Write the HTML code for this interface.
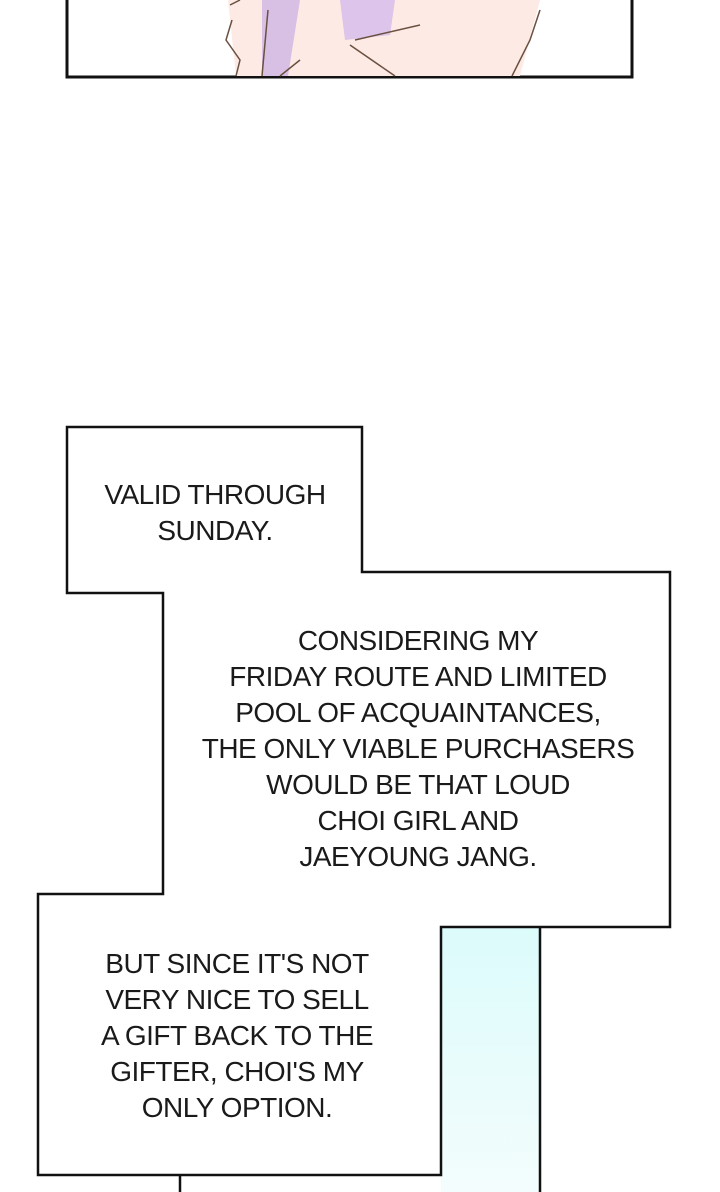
<!DOCTYPE html>
<html><head><style>
body{margin:0;width:720px;height:1192px;background:#fff;overflow:hidden;position:relative;font-family:"Liberation Sans",sans-serif}
.t{position:absolute;text-align:center;font-size:28px;line-height:36px;color:#1a1a1a;letter-spacing:-0.5px}
</style></head><body>
<svg width="720" height="1192" style="position:absolute;left:0;top:0">
<defs><linearGradient id="g" x1="0" y1="0" x2="0" y2="1"><stop offset="0" stop-color="#dcfbfb"/><stop offset="1" stop-color="#f4fdfd"/></linearGradient></defs>
<rect x="67" y="-5" width="565" height="82" fill="#fff" stroke="#111" stroke-width="3"/>
<path d="M228,0 L540,0 L520,76 L236,76 Z" fill="#fdeae4"/>
<path d="M262,0 L300,0 L288,76 L262,76 Z" fill="#d8c0e4"/>
<path d="M340,0 L395,0 L390,35 L345,40 Z" fill="#dcc4ea"/>
<path d="M230,5 L240,0 M232,20 L226,40 L240,60 L236,76 M268,10 L262,76 M300,60 L280,76 M355,40 L420,25 M350,45 L395,76 M540,10 L530,40 L512,76" stroke="#6a5040" stroke-width="1.5" fill="none"/>
<rect x="441" y="927" width="99" height="270" fill="url(#g)"/>
<line x1="540" y1="927" x2="540" y2="1192" stroke="#111" stroke-width="2.5"/>
<line x1="180" y1="1175" x2="180" y2="1192" stroke="#111" stroke-width="2.5"/>
<polygon points="67,427 362,427 362,572 670,572 670,927 441,927 441,1175 38,1175 38,894 163,894 163,593 67,593" fill="#fff" stroke="#111" stroke-width="2.5"/>
</svg>
<div class="t" style="left:65px;top:477px;width:300px">VALID THROUGH<br>SUNDAY.</div>
<div class="t" style="left:168px;top:623px;width:500px">CONSIDERING MY<br>FRIDAY ROUTE AND LIMITED<br>POOL OF ACQUAINTANCES,<br>THE ONLY VIABLE PURCHASERS<br>WOULD BE THAT LOUD<br>CHOI GIRL AND<br>JAEYOUNG JANG.</div>
<div class="t" style="left:52px;top:946px;width:370px">BUT SINCE IT'S NOT<br>VERY NICE TO SELL<br>A GIFT BACK TO THE<br>GIFTER, CHOI'S MY<br>ONLY OPTION.</div>
</body></html>
